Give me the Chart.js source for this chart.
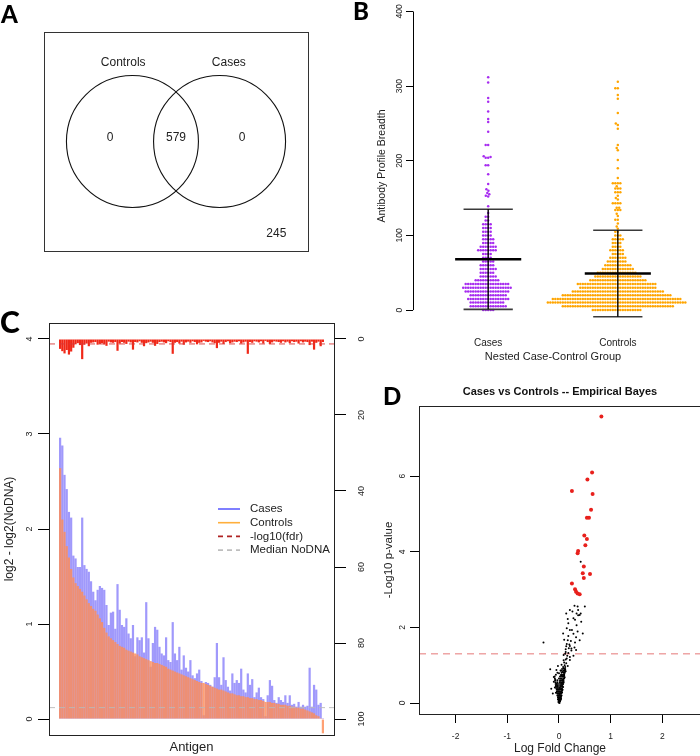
<!DOCTYPE html>
<html>
<head>
<meta charset="utf-8">
<script src="https://cdn.jsdelivr.net/npm/chart.js@4.4.1/dist/chart.umd.min.js"></script>
<style>
    html, body { margin: 0; padding: 0; background: #fff; }
    #page { position: relative; width: 700px; height: 756px; overflow: hidden; background: #fff; }
    #page canvas { position: absolute; }
    .tag { position: absolute; font-family: Lato, "Open Sans", sans-serif; font-weight: 900; line-height: 1; color: #000; }
</style>
</head>
<body>
<div id="page">
    <canvas id="venn" width="350" height="300" style="left:0;top:0"></canvas>
    <canvas id="breadth" width="350" height="365" style="left:350px;top:0"></canvas>
    <canvas id="antigen" width="372" height="456" style="left:0;top:300px"></canvas>
    <canvas id="volcano" width="340" height="396" style="left:372px;top:360px"></canvas>
    <div class="tag" style="left:1px;top:2px;font-size:24px">A</div>
    <div class="tag" style="left:353px;top:-1px;font-size:24px">B</div>
    <div class="tag" style="left:0;top:306px;font-size:30px">C</div>
    <div class="tag" style="left:383px;top:384px;font-size:24px">D</div>
</div>
<script>
// ==================== DATA ====================
// A - antigens detected per group
const vennSets = ['Controls', 'Cases'];
const vennCounts = [0, 579, 0];          // controls only, both, cases only
const vennNeither = 245;

// B - antibody profile breadth (value -> number of subjects)
const groups = ['Cases', 'Controls'];
const caseBreadth = [0, 5, 10, 15, 20, 25, 30, 35, 40, 45, 50, 55, 60, 65, 70, 75, 80, 85, 90, 95, 100, 105, 110, 115, 120, 125, 130,
    139, 152, 153, 155, 157, 160, 162, 169, 182, 194, 204, 205, 206, 221, 239, 252, 256, 266, 279, 284, 305, 312];
const caseFreq = [5, 15, 14, 17, 15, 18, 20, 18, 10, 7, 6, 7, 6, 5, 4, 4, 8, 7, 5, 5, 4, 4, 4, 4, 2, 2, 1,
    1, 1, 1, 1, 1, 1, 1, 1, 1, 2, 2, 1, 1, 2, 1, 1, 1, 1, 1, 1, 1, 1];
const ctrlBreadth = [0, 5, 10, 15, 20, 25, 30, 35, 40, 45, 50, 55, 60, 65, 70, 75, 80, 85, 90, 95, 100, 105,
    109, 112, 116, 121, 126, 129, 134, 137, 143, 148, 150, 153, 158, 163, 166, 170, 177, 190, 201, 214, 217, 221, 243, 248, 250, 264, 283, 288, 297, 306];
const ctrlFreq = [20, 45, 56, 52, 44, 37, 31, 32, 23, 19, 16, 13, 11, 8, 7, 5, 6, 4, 4, 5, 3, 2,
    1, 1, 1, 2, 1, 1, 3, 2, 4, 1, 1, 1, 3, 3, 1, 4, 1, 1, 1, 1, 1, 1, 1, 1, 1, 1, 1, 1, 2, 1];
const groupMean = [68, 49];
const groupSd = [67, 58];

// C - per-antigen signal, sorted by controls
const casesLog = [
    2.96, 2.88, 2.57, 2.42, 2.18, 2.12, 1.72, 1.69, 1.60, 1.60,
    2.12, 1.62, 1.58, 1.55, 1.45, 1.34, 1.25, 1.36, 1.40, 1.38,
    1.36, 1.20, 0.99, 1.12, 1.13, 0.95, 1.42, 1.15, 0.99, 0.97,
    1.06, 0.90, 0.85, 0.99, 0.66, 0.86, 0.83, 0.86, 0.70, 1.23,
    0.85, 0.55, 0.80, 0.97, 0.94, 0.76, 0.69, 0.67, 0.86, 0.62,
    0.60, 1.02, 0.69, 0.62, 0.76, 0.52, 0.67, 0.54, 0.50, 0.62,
    0.46, 0.43, 0.48, 0.52, 0.40, 0.04, 0.39, 0.38, 0.36, 0.34,
    0.44, 0.80, 0.44, 0.36, 0.65, 0.41, 0.34, 0.30, 0.48, 0.38,
    0.41, 0.38, 0.53, 0.31, 0.28, 0.48, 0.36, 0.42, 0.23, 0.28,
    0.33, 0.23, 0.21, 0.03, 0.25, 0.41, 0.35, 0.20, 0.17, 0.23,
    0.20, 0.18, 0.25, 0.17, 0.25, 0.15, 0.16, 0.13, 0.18, 0.13,
    0.15, 0.13, 0.14, 0.54, 0.13, 0.36, 0.31, 0.15, 0.17, 0.01];
const controlsLog = [
    2.64, 2.10, 1.97, 1.82, 1.70, 1.58, 1.49, 1.43, 1.40, 1.37,
    1.34, 1.30, 1.26, 1.22, 1.19, 1.16, 1.14, 1.10, 1.06, 1.02,
    0.96, 0.91, 0.87, 0.85, 0.83, 0.81, 0.79, 0.77, 0.76, 0.75,
    0.73, 0.72, 0.71, 0.70, 0.69, 0.68, 0.66, 0.65, 0.64, 0.63,
    0.62, 0.61, 0.60, 0.59, 0.59, 0.58, 0.57, 0.56, 0.55, 0.53,
    0.52, 0.51, 0.50, 0.49, 0.48, 0.47, 0.46, 0.45, 0.44, 0.43,
    0.42, 0.41, 0.40, 0.39, 0.38, 0.38, 0.37, 0.36, 0.35, 0.34,
    0.33, 0.32, 0.31, 0.31, 0.30, 0.29, 0.28, 0.27, 0.27, 0.26,
    0.25, 0.25, 0.24, 0.24, 0.23, 0.23, 0.22, 0.22, 0.21, 0.21,
    0.20, 0.20, 0.19, 0.18, 0.18, 0.18, 0.17, 0.17, 0.16, 0.16,
    0.15, 0.15, 0.15, 0.14, 0.14, 0.13, 0.13, 0.12, 0.12, 0.11,
    0.11, 0.10, 0.09, 0.08, 0.07, 0.06, 0.04, 0.03, 0.01, -0.15];
const fdrLog = [
    2.6, 3.2, 3.8, 2.9, 4.1, 3.3, 2.3, 1.4, 1.1, 1.6,
    5.3, 1.5, 1.2, 1.9, 1.0, 0.9, 0.8, 1.5, 1.3, 1.1,
    1.4, 1.8, 0.7, 0.9, 1.0, 0.8, 3.1, 1.2, 0.8, 1.0,
    1.3, 0.7, 0.9, 2.8, 0.8, 0.9, 0.6, 1.0, 1.9, 1.1,
    0.9, 0.7, 1.0, 1.8, 1.3, 0.8, 0.7, 0.9, 1.1, 0.6,
    0.8, 3.9, 1.0, 0.8, 1.2, 0.7, 1.5, 0.9, 0.7, 1.0,
    0.6, 0.8, 1.4, 1.0, 0.9, 0.5, 0.7, 0.8, 0.6, 0.9,
    1.1, 2.4, 1.0, 0.7, 1.3, 0.8, 0.6, 1.1, 0.9, 0.7,
    0.8, 0.6, 1.2, 0.9, 0.7, 3.9, 0.8, 1.0, 0.6, 0.7,
    0.9, 0.6, 1.2, 0.5, 0.8, 1.3, 0.9, 0.6, 0.7, 0.8,
    1.0, 0.6, 0.9, 0.7, 1.1, 0.6, 0.8, 0.7, 1.2, 0.6,
    0.9, 0.7, 0.8, 1.6, 0.7, 2.8, 1.0, 0.7, 1.9, 0.8];
const fdrCut = 1.3;
const medianNoDNA = 0.12;
const seriesNames = ['Cases', 'Controls', '-log10(fdr)', 'Median NoDNA'];

// D - volcano (black: not significant, red: significant)
const volcanoFC = [0.42, 0.30, 0.36, 0.50, 0.37, 0.21, 0.26, 0.42, 0.14, 0.34, 0.40, 0.37, 0.28, 0.17, 0.31, 0.43, 0.18, 0.34, 0.15, 0.25,
    0.21, 0.36, 0.08, 0.46, 0.28, 0.18, 0.33, 0.10, 0.17, 0.40, 0.23, 0.31, -0.30, 0.15, 0.14, 0.21, 0.20, 0.30, 0.24, 0.19,
    0.33, 0.13, 0.24, 0.13, 0.18, 0.12, 0.09, 0.28, 0.16, 0.21, 0.15, 0.13, 0.21, 0.09, 0.10, 0.14, 0.05, 0.11, 0.17, -0.02,
    0.12, 0.08, 0.09, -0.17, 0.12, -0.05, 0.03, 0.10, 0.13, 0.07, 0.11, 0.00, 0.09, 0.06, 0.10, 0.04, 0.07, -0.10, 0.11, 0.10,
    0.03, 0.08, -0.07, 0.06, 0.03, 0.09, -0.10, 0.07, 0.02, 0.09, 0.08, 0.05, -0.04, -0.03, 0.06, 0.04, -0.06, 0.08, -0.08, 0.01,
    -0.15, 0.05, 0.00, 0.07, -0.02, 0.06, -0.04, 0.04, 0.02, 0.06, -0.06, -0.12, -0.01, 0.03, 0.01, -0.03, 0.05, 0.04, 0.02, -0.01,
    0.04, -0.02, 0.00, 0.03, 0.01, 0.03, 0.00, 0.02, -0.01, 0.01, 0.00,
    -0.01, 0.00, 0.01, 0.02, -0.015, 0.00, 0.015, 0.03, -0.02, 0.00, 0.02, 0.035, -0.025, -0.005, 0.015, 0.035,
    -0.035, -0.01, 0.01, 0.03, 0.045, -0.04, -0.015, 0.01, 0.035, 0.05, -0.045, -0.02, 0.005, 0.03, 0.055,
    -0.055, -0.03, 0.00, 0.03, 0.06, -0.06, -0.035, 0.00, 0.03, 0.065, -0.065, -0.04, 0.00, 0.035, 0.07,
    -0.07, -0.035, 0.01, 0.05, 0.075, -0.075, -0.03, 0.02, 0.06, 0.08, -0.08, 0.00, 0.045, 0.085,
    -0.085, 0.02, 0.06, 0.09, -0.06, 0.04, 0.08, 0.10, -0.03, 0.05, 0.09, 0.105, 0.04, 0.08, 0.11, 0.06, 0.10, 0.12];
const volcanoP = [3.74, 2.57, 2.55, 2.55, 2.46, 2.46, 2.42, 2.37, 2.37, 2.37, 2.33, 2.32, 2.24, 2.22, 2.20, 2.15, 2.11, 2.06, 1.98, 1.93,
    1.93, 1.89, 1.84, 1.84, 1.83, 1.77, 1.74, 1.67, 1.66, 1.66, 1.64, 1.60, 1.60, 1.56, 1.50, 1.51, 1.55, 1.47, 1.44, 1.45,
    1.40, 1.42, 1.39, 1.35, 1.32, 1.30, 1.27, 1.25, 1.25, 1.22, 1.18, 1.15, 1.14, 1.13, 1.07, 1.05, 1.01, 1.00, 0.98, 0.98,
    0.95, 0.95, 0.92, 0.89, 0.88, 0.87, 0.86, 0.85, 0.84, 0.82, 0.80, 0.79, 0.75, 0.74, 0.72, 0.72, 0.70, 0.69, 0.68, 0.65,
    0.65, 0.63, 0.61, 0.60, 0.59, 0.58, 0.56, 0.55, 0.55, 0.54, 0.50, 0.50, 0.50, 0.45, 0.45, 0.45, 0.45, 0.42, 0.41, 0.40,
    0.38, 0.38, 0.36, 0.35, 0.35, 0.33, 0.30, 0.30, 0.30, 0.28, 0.27, 0.25, 0.25, 0.25, 0.24, 0.20, 0.20, 0.17, 0.15, 0.15,
    0.12, 0.10, 0.12, 0.10, 0.08, 0.08, 0.05, 0.04, 0.02, 0.00, 0.01,
    0.05, 0.05, 0.05, 0.05, 0.10, 0.10, 0.10, 0.10, 0.15, 0.15, 0.15, 0.15, 0.20, 0.20, 0.20, 0.20,
    0.25, 0.25, 0.25, 0.25, 0.25, 0.30, 0.30, 0.30, 0.30, 0.30, 0.35, 0.35, 0.35, 0.35, 0.35,
    0.40, 0.40, 0.40, 0.40, 0.40, 0.45, 0.45, 0.45, 0.45, 0.45, 0.50, 0.50, 0.50, 0.50, 0.50,
    0.55, 0.55, 0.55, 0.55, 0.55, 0.60, 0.60, 0.60, 0.60, 0.60, 0.65, 0.65, 0.65, 0.65,
    0.70, 0.70, 0.70, 0.70, 0.75, 0.75, 0.75, 0.75, 0.80, 0.80, 0.80, 0.80, 0.85, 0.85, 0.85, 0.90, 0.90, 0.90];
const sigFC = [0.82, 0.64, 0.55, 0.25, 0.65, 0.62, 0.54, 0.58, 0.49, 0.54, 0.51, 0.37, 0.36, 0.48, 0.46, 0.60, 0.48, 0.25, 0.31, 0.33, 0.36, 0.40];
const sigP = [7.58, 6.10, 5.91, 5.61, 5.53, 5.11, 4.90, 4.90, 4.43, 4.34, 4.17, 4.02, 3.96, 3.61, 3.43, 3.41, 3.31, 3.16, 3.01, 2.94, 2.90, 2.88];
const pCut = 1.3;

// ==================== STYLE ====================
const FONT = '"Liberation Sans", Arial, sans-serif';
Chart.defaults.font.family = FONT;
Chart.defaults.color = '#222';
Chart.defaults.animation = false;
Chart.defaults.responsive = false;
Chart.defaults.events = [];
Chart.defaults.plugins.legend.display = false;
Chart.defaults.plugins.tooltip.enabled = false;

const caseBar = 'rgba(120,110,250,0.7)';
const ctrlBar = 'rgba(255,140,85,0.82)';
const legendItems = [
    { color: 'rgb(95,95,255)', dash: [] },
    { color: 'rgb(255,175,60)', dash: [] },
    { color: 'rgb(175,35,35)', dash: [5, 4] },
    { color: 'rgb(190,190,190)', dash: [5, 4] }
];

// fixed axis thickness so plot areas line up with the figure
const fix = size => s => {
    if (s.isHorizontal()) s.height = size; else s.width = size;
    s.paddingLeft = s.paddingRight = s.paddingTop = s.paddingBottom = 0;
};

// box() around the plot region
Chart.register({
    id: 'frame',
    afterDatasetsDraw(chart, args, opts) {
        if (!opts.color) return;
        const { ctx, chartArea: a } = chart;
        ctx.save();
        ctx.strokeStyle = opts.color;
        ctx.lineWidth = 1;
        ctx.strokeRect(Math.round(a.left) + 0.5, Math.round(a.top) + 0.5, Math.round(a.width), Math.round(a.height));
        ctx.restore();
    }
});

// ==================== A: VENN ====================
const vennGap = 1.32, vennRadius = 1;
const vennText = {
    id: 'vennText',
    afterDatasetsDraw(chart) {
        const { ctx, scales: { x, y } } = chart;
        ctx.save();
        ctx.font = '12px ' + FONT;
        ctx.fillStyle = '#222';
        ctx.textAlign = 'center';
        ctx.textBaseline = 'middle';
        vennSets.forEach((s, i) => ctx.fillText(s, x.getPixelForValue((i - 0.5) * 1.6), y.getPixelForValue(1.2)));
        vennCounts.forEach((n, i) => ctx.fillText(String(n), x.getPixelForValue(i - 1), y.getPixelForValue(0.06)));
        ctx.fillText(String(vennNeither), x.getPixelForValue(1.52), y.getPixelForValue(-1.39));
        ctx.restore();
    }
};
new Chart(document.getElementById('venn'), {
    type: 'scatter',
    data: {
        datasets: [{
            data: vennSets.map((s, i) => ({ x: (i - 0.5) * vennGap, y: 0 })),
            pointRadius: c => { const s = c.chart.scales.x; return s.getPixelForValue(vennRadius) - s.getPixelForValue(0); },
            pointBackgroundColor: 'rgba(0,0,0,0)',
            pointBorderColor: '#111',
            pointBorderWidth: 1.1,
            clip: false
        }]
    },
    options: {
        devicePixelRatio: 1,
        layout: { padding: { left: 44, top: 32, right: 42, bottom: 49 } },
        scales: {
            x: { type: 'linear', display: false, min: -2, max: 2 },
            y: { type: 'linear', display: false, min: -1.66, max: 1.66 }
        },
        plugins: { frame: { color: '#333' } }
    },
    plugins: [vennText]
});

// ==================== B: BEESWARM ====================
const expand = (vals, freq) => vals.flatMap((v, i) => Array(freq[i]).fill(v));
const caseVals = expand(caseBreadth, caseFreq);
const ctrlVals = expand(ctrlBreadth, ctrlFreq);
const meanHalf = 0.255, capHalf = 0.19, dotGap = 2.5;

function seg(pts, w, col) {
    return { type: 'line', data: pts.map(([x, y]) => ({ x, y })), showLine: true, borderColor: col, borderWidth: w, pointRadius: 0, order: 1, clip: false };
}
const summaryLines = [];
groupMean.forEach((m, g) => {
    const c = g + 1, lo = m - groupSd[g], hi = m + groupSd[g];
    summaryLines.push(
        seg([[c, lo], [c, hi]], 1.4, '#000'),
        seg([[c - capHalf, hi], [c + capHalf, hi]], 1.6, '#3a3a3a'),
        seg([[c - capHalf, lo], [c + capHalf, lo]], 1.6, '#3a3a3a'),
        seg([[c - meanHalf, m], [c + meanHalf, m]], 2.6, '#000'));
});

// R draws the y axis line only between the first and last tick
const axisLine = {
    id: 'axisLine',
    afterDraw(chart) {
        const s = chart.scales.y, t = s.ticks;
        const ctx = chart.ctx, x = Math.round(s.right) + 0.5;
        ctx.save();
        ctx.strokeStyle = '#000';
        ctx.lineWidth = 1;
        ctx.beginPath();
        ctx.moveTo(x, s.getPixelForValue(t[0].value));
        ctx.lineTo(x, s.getPixelForValue(t[t.length - 1].value));
        ctx.stroke();
        ctx.restore();
    }
};

const breadthChart = new Chart(document.getElementById('breadth'), {
    type: 'scatter',
    data: {
        datasets: [
            { label: groups[0], data: caseVals.map(v => ({ x: 1, y: v })), pointRadius: 1.25, pointBorderWidth: 0, pointBackgroundColor: '#A72CF0', order: 2 },
            { label: groups[1], data: ctrlVals.map(v => ({ x: 2, y: v })), pointRadius: 1.25, pointBorderWidth: 0, pointBackgroundColor: '#FFA500', order: 2 },
            ...summaryLines
        ]
    },
    options: {
        devicePixelRatio: 1,
        layout: { padding: { left: 0, top: 3.5, right: 7, bottom: 1.4 } },
        scales: {
            x: {
                type: 'linear', min: 0.42, max: 2.58, afterFit: fix(35.6),
                afterBuildTicks: s => { s.ticks = groups.map((g, i) => ({ value: i + 1 })); },
                ticks: { callback: v => groups[v - 1], padding: 9, font: { size: 10 } },
                grid: { display: false, drawTicks: false }, border: { display: false },
                title: { display: true, text: 'Nested Case-Control Group', font: { size: 11 }, padding: 0 }
            },
            y: {
                min: -24, max: 410, afterFit: fix(63),
                ticks: { stepSize: 100, includeBounds: false, minRotation: 90, maxRotation: 90, crossAlign: 'center', padding: -1.1, font: { size: 8.5 } },
                grid: { drawOnChartArea: false, tickLength: 7, color: '#000' }, border: { display: false },
                title: { display: true, text: 'Antibody Profile Breadth', font: { size: 10.5 }, padding: { top: 25.7, bottom: 0 } }
            }
        }
    },
    plugins: [axisLine]
});

function swarmOffsets(ys, d) {
    const order = ys.map((_, i) => i).sort((a, b) => ys[a] - ys[b]);
    const placed = [];
    const out = new Array(ys.length);
    for (const i of order) {
        const y = ys[i];
        const near = placed.filter(p => Math.abs(p.y - y) < d);
        const cands = [0];
        near.forEach(p => {
            const dx = Math.sqrt(d * d - (p.y - y) ** 2);
            cands.push(p.x - dx, p.x + dx);
        });
        cands.sort((a, b) => Math.abs(a) - Math.abs(b) || a - b);
        const x = cands.find(c => near.every(p => (p.x - c) ** 2 + (p.y - y) ** 2 >= d * d - 1e-6));
        placed.push({ x, y });
        out[i] = x;
    }
    return out;
}

(function placeSwarm(chart) {
    const xs = chart.scales.x, ys = chart.scales.y;
    const pxX = xs.getPixelForValue(1) - xs.getPixelForValue(0);
    const pxY = ys.getPixelForValue(0) - ys.getPixelForValue(1);
    [caseVals, ctrlVals].forEach((vals, g) => {
        const off = swarmOffsets(vals.map(v => v * pxY), dotGap);
        chart.data.datasets[g].data = vals.map((v, i) => ({ x: g + 1 + off[i] / pxX, y: v }));
    });
    chart.update('none');
})(breadthChart);

// ==================== C: ANTIGEN PROFILE ====================
const xMinC = -5.03, xMaxC = casesLog.length + 4.03;
const legendC = {
    id: 'legendC',
    afterDraw(chart) {
        const { ctx, chartArea: a } = chart;
        ctx.save();
        ctx.font = '11.5px ' + FONT;
        ctx.textBaseline = 'middle';
        seriesNames.forEach((label, k) => {
            const it = legendItems[k], y = a.top + 186 + k * 13.7;
            ctx.strokeStyle = it.color;
            ctx.lineWidth = 1.6;
            ctx.setLineDash(it.dash);
            ctx.beginPath();
            ctx.moveTo(a.left + 169, y);
            ctx.lineTo(a.left + 191, y);
            ctx.stroke();
            ctx.fillStyle = '#222';
            ctx.fillText(label, a.left + 201, y);
        });
        ctx.restore();
    }
};
const barOpts = { grouped: false, barPercentage: 1, categoryPercentage: 1, inflateAmount: 0, borderWidth: 0 };
new Chart(document.getElementById('antigen'), {
    type: 'bar',
    data: {
        datasets: [
            { label: seriesNames[0], data: casesLog.map((v, i) => ({ x: i, y: v })), backgroundColor: caseBar, yAxisID: 'y', order: 3, ...barOpts },
            { label: seriesNames[1], data: controlsLog.map((v, i) => ({ x: i, y: v })), backgroundColor: ctrlBar, yAxisID: 'y', order: 2, ...barOpts },
            { label: 'fdr', data: fdrLog.map((v, i) => ({ x: i, y: v })), backgroundColor: '#F02818', yAxisID: 'y2', order: 2, ...barOpts },
            { type: 'line', label: seriesNames[2], data: [{ x: xMinC, y: fdrCut }, { x: xMaxC, y: fdrCut }], yAxisID: 'y2',
              borderColor: 'rgba(215,55,55,0.9)', borderWidth: 1, borderDash: [6, 4], pointRadius: 0, order: 0 },
            { type: 'line', label: seriesNames[3], data: [{ x: xMinC, y: medianNoDNA }, { x: xMaxC, y: medianNoDNA }], yAxisID: 'y',
              borderColor: 'rgba(185,185,185,0.9)', borderWidth: 1, borderDash: [6, 4], pointRadius: 0, order: 0 }
        ]
    },
    options: {
        devicePixelRatio: 1,
        layout: { padding: { left: 0, top: 23, right: 0, bottom: 0 } },
        scales: {
            x: {
                type: 'linear', offset: false, min: xMinC, max: xMaxC, afterFit: fix(21),
                ticks: { display: false }, grid: { display: false, drawTicks: false, offset: false }, border: { display: false },
                title: { display: true, text: 'Antigen', font: { size: 13 }, padding: { top: 0, bottom: 1 } }
            },
            y: {
                position: 'left', min: -0.168, max: 4.168, afterFit: fix(49),
                ticks: { stepSize: 1, includeBounds: false, minRotation: 90, maxRotation: 90, crossAlign: 'center', padding: 5.5, font: { size: 9 } },
                grid: { drawOnChartArea: false, tickLength: 11, color: '#000' }, border: { display: false },
                title: { display: true, text: 'log2 - log2(NoDNA)', font: { size: 12 }, padding: { top: 2.8, bottom: 0 } }
            },
            y2: {
                position: 'right', reverse: true, min: -4.21, max: 104.21, afterFit: fix(38),
                ticks: { stepSize: 20, includeBounds: false, minRotation: 90, maxRotation: 90, crossAlign: 'center', padding: 8.5, font: { size: 9 } },
                grid: { drawOnChartArea: false, tickLength: 12, color: '#000' }, border: { display: false }
            }
        },
        plugins: { frame: { color: '#222' } }
    },
    plugins: [legendC]
});

// ==================== D: VOLCANO ====================
const xMinD = -2.708, xMaxD = 2.747;
const panelTitle = {
    id: 'panelTitle',
    afterDraw(chart, args, opts) {
        const { ctx, chartArea: a } = chart;
        ctx.save();
        ctx.font = 'bold 11px ' + FONT;
        ctx.fillStyle = '#111';
        ctx.textAlign = 'center';
        ctx.textBaseline = 'middle';
        ctx.fillText(opts.text, (a.left + a.right) / 2, opts.y);
        ctx.restore();
    }
};
new Chart(document.getElementById('volcano'), {
    type: 'scatter',
    data: {
        datasets: [
            { data: volcanoFC.map((x, i) => ({ x, y: volcanoP[i] })), pointRadius: 1, pointBorderWidth: 0, pointBackgroundColor: '#000', order: 2 },
            { data: sigFC.map((x, i) => ({ x, y: sigP[i] })), pointRadius: 2, pointBorderWidth: 0, pointBackgroundColor: '#E8201C', order: 1 },
            { type: 'line', data: [{ x: xMinD, y: pCut }, { x: xMaxD, y: pCut }], showLine: true, borderColor: 'rgba(225,95,95,0.85)',
              borderWidth: 1, borderDash: [7, 5], pointRadius: 0, order: 3 }
        ]
    },
    options: {
        devicePixelRatio: 1,
        layout: { padding: { left: 0, top: 46, right: 11, bottom: 0 } },
        scales: {
            x: {
                min: xMinD, max: xMaxD, afterFit: fix(42),
                ticks: { stepSize: 1, includeBounds: false, padding: 8.9, font: { size: 8.5 } },
                grid: { drawOnChartArea: false, tickLength: 9, color: '#000' }, border: { display: false },
                title: { display: true, text: 'Log Fold Change', font: { size: 12 }, padding: 0 }
            },
            y: {
                min: -0.291, max: 7.857, afterFit: fix(47),
                ticks: { stepSize: 2, includeBounds: false, minRotation: 90, maxRotation: 90, crossAlign: 'center', padding: 4.6, font: { size: 8.5 } },
                grid: { drawOnChartArea: false, tickLength: 9, color: '#000' }, border: { display: false },
                title: { display: true, text: '-Log10 p-value', font: { size: 11.5 }, padding: { top: 10.1, bottom: 0 } }
            }
        },
        plugins: { frame: { color: '#222' }, panelTitle: { text: 'Cases vs Controls -- Empirical Bayes', y: 32 } }
    },
    plugins: [panelTitle]
});
</script>
</body>
</html>
